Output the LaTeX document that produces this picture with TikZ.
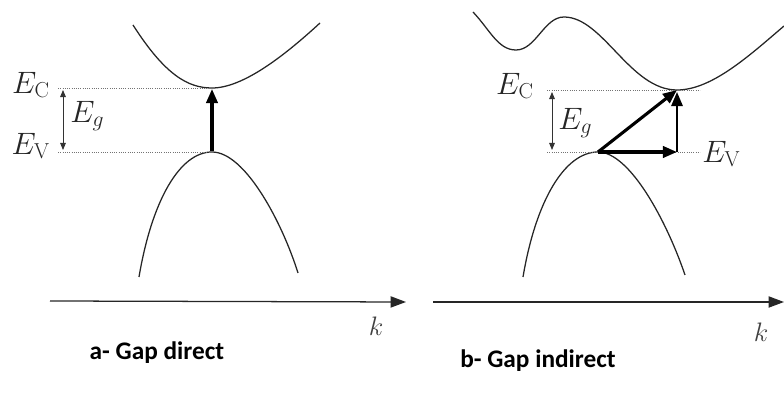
\RequirePackage{fix-cm}
\documentclass[tikz,border=0pt]{standalone}
\usepackage{amsmath,amssymb}
\usepackage{fontspec}
\newfontfamily\capfont{Carlito}
\usetikzlibrary{arrows.meta,calc,positioning}

\tikzset{
  band/.style={line width=0.9pt, black!85},
  level/.style={densely dotted, line width=0.6pt, black!55},
  jump/.style={-{Triangle[length=10pt,width=8pt]}, line width=2.2pt},
  gaparrow/.style={{Triangle[length=5pt,width=4pt]}-{Triangle[length=5pt,width=4pt]}, line width=0.6pt, black!80},
  kaxis/.style={-{Triangle[length=11pt,width=8pt]}, line width=0.9pt, black!85},
  elabel/.style={font=\fontsize{22}{26}\selectfont, inner sep=0pt, black!85},
  klabel/.style={font=\fontsize{19}{22}\selectfont, inner sep=0pt, black!75},
  caption/.style={font=\capfont\bfseries\fontsize{18}{22}\selectfont, inner sep=0pt}
}

\begin{document}
\begin{tikzpicture}[x=0.025cm, y=-0.025cm]
    \useasboundingbox (0,0) rectangle (784,398);
    % ---- left panel: direct gap
    \coordinate (cminA) at (212,88);
    \coordinate (vmaxA) at (212,152);
    \coordinate (ecA) at (58,88);
    \coordinate (evA) at (58,152);
    \coordinate (egtopA) at (63,90);
    \coordinate (egbotA) at (63,150);
    \draw[band] (133,25) .. controls (165,75) and (188,88) .. (cminA)
      .. controls (242,88) and (282,58) .. (320,23);
    \draw[band] (139,277) .. controls (152,200) and (180,152) .. (vmaxA)
      .. controls (245,152) and (282,222) .. (298,273);
    \draw[level] (ecA) -- (cminA);
    \draw[level] (evA) -- (vmaxA);
    \draw[gaparrow] (egtopA) -- (egbotA);
    \draw[jump] ($(vmaxA)+(0,-1)$) -- ($(cminA)+(0,1)$);
    \node[elabel, anchor=east] (ecLblA) at (50,85) {$E_{\mathrm{C}}$};
    \node[elabel, anchor=east] (evLblA) at (50,146) {$E_{\mathrm{V}}$};
    \node[elabel, anchor=west] (egLblA) at (70,116) {$E_{g}$};
    % the k axis
    \coordinate (kstartA) at (50,301);
    \coordinate (kendA) at (406,302);
    \draw[kaxis] (kstartA) -- (kendA);
    \node[klabel] (kLblA) at (376,326) {$k$};
    \node[caption] (capA) at (157,353) {a- Gap direct};
    % ---- right panel: indirect gap
    \coordinate (cminB) at (677,90);
    \coordinate (vmaxB) at (598,152);
    \coordinate (cornerB) at (677,152);
    \coordinate (ecB) at (547,90);
    \coordinate (ecendB) at (700,90);
    \coordinate (evB) at (547,152);
    \coordinate (evendB) at (700,152);
    \coordinate (egtopB) at (552,92);
    \coordinate (egbotB) at (552,150);
    \draw[band] (473,12) .. controls (490,30) and (498,50) .. (516,50)
      .. controls (536,50) and (544,17) .. (564,17)
      .. controls (603,17) and (630,90) .. (cminB)
      .. controls (712,90) and (750,55) .. (784,26);
    \draw[band] (523,277) .. controls (536,200) and (565,152) .. (vmaxB)
      .. controls (630,152) and (667,222) .. (685,275);
    \draw[level] (ecB) -- (ecendB);
    \draw[level] (evB) -- (evendB);
    \draw[gaparrow] (egtopB) -- (egbotB);
    \draw[jump] (vmaxB) -- (cminB);
    \draw[jump] (vmaxB) -- (cornerB);
    \draw[jump, line width=1.6pt] (cornerB) -- ($(cminB)+(0,2)$);
    \node[elabel, anchor=east] (ecLblB) at (534,86) {$E_{\mathrm{C}}$};
    \node[elabel, anchor=west] (evLblB) at (702,154) {$E_{\mathrm{V}}$};
    \node[elabel, anchor=west] (egLblB) at (558,123) {$E_{g}$};
    % the k axis
    \coordinate (kstartB) at (433,302);
    \coordinate (kendB) at (784,302);
    \draw[kaxis] (kstartB) -- (kendB);
    \node[klabel] (kLblB) at (761,332) {$k$};
    \node[caption] (capB) at (538,361) {b- Gap indirect};
  \end{tikzpicture}
\end{document}
